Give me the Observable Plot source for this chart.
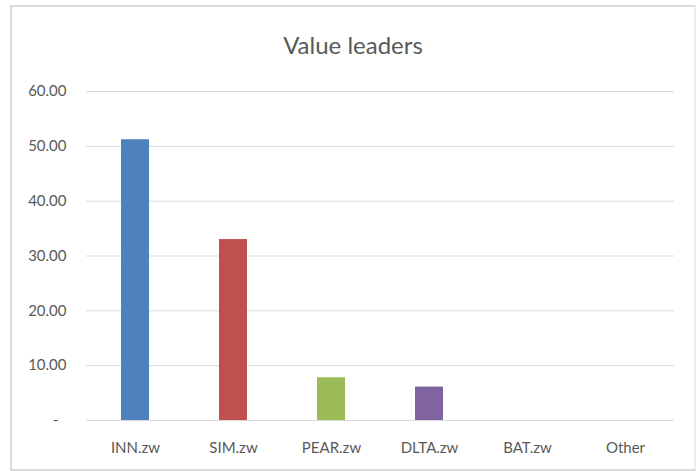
<!DOCTYPE html>
<html>
<head>
<meta charset="utf-8">
<script src="https://cdn.jsdelivr.net/npm/d3@7"></script>
<script src="https://cdn.jsdelivr.net/npm/@observablehq/plot@0.6"></script>
<style>
  html, body { margin: 0; padding: 0; background: #ffffff; }
  #wrap { position: relative; width: 696px; height: 471px; overflow: hidden; background: #fff; }
  #frame { position: absolute; left: 10px; top: 5px; width: 682px; height: 462px; border: 2px solid #d9d9d9; border-right-color: #ececec; }
  #title { position: absolute; left: 10px; width: 686px; top: 30px; height: 30px; line-height: 30px; text-align: center;
           font-family: Lato, "Open Sans", sans-serif; font-size: 24px; color: #595959; }
  #chart { position: absolute; left: 0; top: 60px; }
</style>
</head>
<body>
<div id="wrap">
  <div id="frame"></div>
  <div id="title">Value leaders</div>
  <div id="chart"></div>
</div>
<script>
const categories = ["INN.zw", "SIM.zw", "PEAR.zw", "DLTA.zw", "BAT.zw", "Other"];
const values = [51.2, 33.0, 7.8, 6.1, 0, 0];
const colors = ["#4F81BD", "#C0504D", "#9BBB59", "#8064A2", "#F79646", "#4BACC6"];
const yTicks = [0, 10, 20, 30, 40, 50, 60];

const data = categories.map((c, i) => ({category: c, value: values[i], color: colors[i]}));

const plot = Plot.plot({
  width: 696,
  height: 411,
  marginLeft: 86,
  marginRight: 22,
  marginTop: 31,
  marginBottom: 51,
  style: {fontFamily: "Lato, 'Open Sans', sans-serif", fontSize: "15px", color: "#595959", background: "transparent"},
  x: {domain: categories, paddingInner: 0.714, paddingOuter: 0.357, label: null},
  y: {domain: [0, 60], label: null},
  marks: [
    Plot.gridY(yTicks, {stroke: "#d9d9d9", strokeOpacity: 1, strokeWidth: 1}),
    Plot.barY(data, {x: "category", y: "value", fill: "color"}),
    Plot.axisX({tickSize: 0, tickPadding: 22, fill: "#595959"}),
    Plot.axisY(yTicks.filter(d => d > 0), {tickSize: 0, tickPadding: 20, tickFormat: d => d.toFixed(2), fill: "#595959"}),
    Plot.text([0], {y: d => d, frameAnchor: "left", text: () => "-", textAnchor: "end", dx: -28, fill: "#595959"})
  ]
});
document.getElementById("chart").appendChild(plot);
</script>
</body>
</html>
